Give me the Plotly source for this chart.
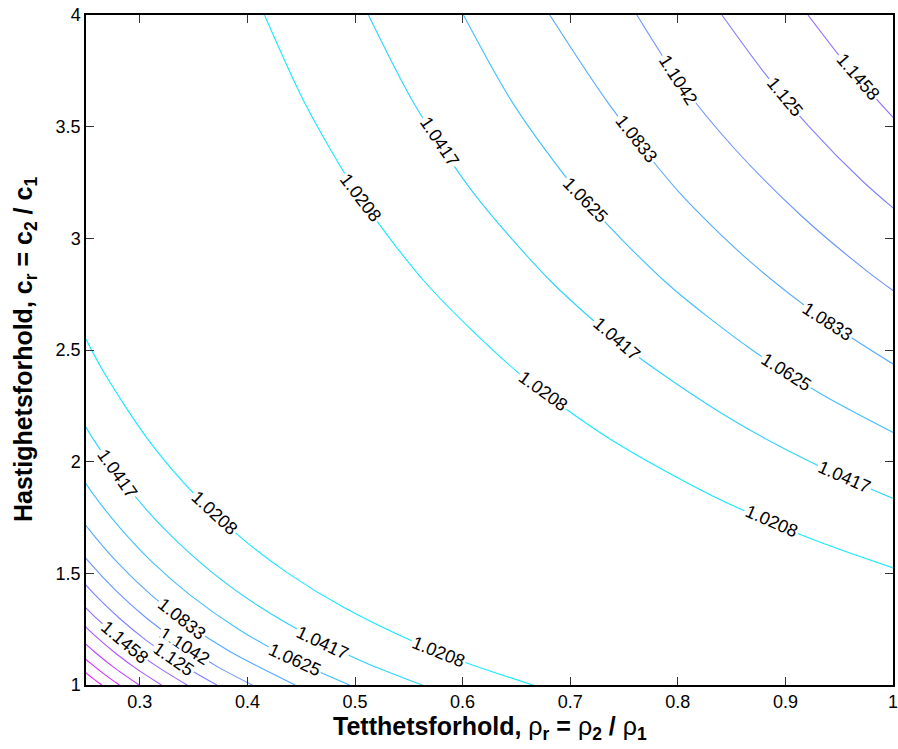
import math
import plotly.graph_objects as go

# ---------------- data ----------------
level_values = [1.0208, 1.0417, 1.0625, 1.0833, 1.1042, 1.125, 1.1458,
                1.1667, 1.1875, 1.2083, 1.2292]
level_text = ["1.0208", "1.0417", "1.0625", "1.0833", "1.1042", "1.125", "1.1458",
              "1.1667", "1.1875", "1.2083", "1.2292"]

# upper-right family (rho_r, c_r)
up1_rho = [0.4159, 0.4539, 0.5024, 0.5658, 0.6513, 0.7374, 0.8309, 0.9264, 1.0149]
up1_c = [4.0, 3.6, 3.2, 2.8, 2.4, 2.1, 1.85, 1.65, 1.5]
up2_rho = [0.5125, 0.5553, 0.6106, 0.6836, 0.7547, 0.8463, 0.9230, 1.0173]
up2_c = [4.0, 3.6, 3.2, 2.8, 2.5, 2.2, 2.0, 1.8]
up3_rho = [0.6008, 0.6474, 0.7085, 0.7896, 0.8691, 0.9344, 1.0126]
up3_c = [4.0, 3.6, 3.2, 2.8, 2.5, 2.3, 2.1]
up4_rho = [0.6810, 0.7362, 0.8024, 0.8662, 0.9319, 1.0124]
up4_c = [4.0, 3.6, 3.2, 2.9, 2.65, 2.4]
up5_rho = [0.7620, 0.8020, 0.8530, 0.9150, 0.9767, 1.0193]
up5_c = [4.0, 3.7, 3.4, 3.1, 2.85, 2.7]
up6_rho = [0.8410, 0.8790, 0.9220, 0.9730, 1.0214]
up6_c = [4.0, 3.75, 3.5, 3.25, 3.05]
up7_rho = [0.9210, 0.9530, 0.9890, 1.0180]
up7_c = [4.0, 3.8, 3.6, 3.45]

# lower-left family (rho_r, c_r)
lo1_rho = [0.2445, 0.2666, 0.3075, 0.3516, 0.3965, 0.4379, 0.4885, 0.5517, 0.6033, 0.6653]
lo1_c = [2.6, 2.4, 2.1, 1.85, 1.65, 1.5, 1.35, 1.2, 1.1, 1.0]
lo2_rho = [0.2382, 0.2569, 0.2863, 0.3225, 0.3683, 0.4115, 0.4655, 0.5096, 0.5625]
lo2_c = [2.25, 2.1, 1.9, 1.7, 1.5, 1.35, 1.2, 1.1, 1.0]
lo3_rho = [0.2363, 0.2574, 0.2822, 0.3116, 0.3474, 0.3917, 0.4396, 0.4949]
lo3_c = [2.0, 1.85, 1.7, 1.55, 1.4, 1.25, 1.12, 1.0]
lo4_rho = [0.2369, 0.2522, 0.2789, 0.3112, 0.3453, 0.3837, 0.4444]
lo4_c = [1.8, 1.7, 1.55, 1.4, 1.27, 1.15, 1.0]
lo5_rho = [0.2363, 0.2530, 0.2783, 0.3061, 0.3395, 0.3729, 0.4045]
lo5_c = [1.65, 1.55, 1.42, 1.3, 1.18, 1.08, 1.0]
lo6_rho = [0.2403, 0.2591, 0.2808, 0.3060, 0.3359, 0.3716]
lo6_c = [1.5, 1.4, 1.3, 1.2, 1.1, 1.0]
lo7_rho = [0.2357, 0.2490, 0.2661, 0.2881, 0.3137, 0.3439]
lo7_c = [1.42, 1.35, 1.27, 1.18, 1.09, 1.0]
lo8_rho = [0.2412, 0.2585, 0.2781, 0.2977, 0.3201]
lo8_c = [1.3, 1.22, 1.14, 1.07, 1.0]
lo9_rho = [0.2415, 0.2575, 0.2756, 0.2993]
lo9_c = [1.22, 1.15, 1.08, 1.0]
lo10_rho = [0.2416, 0.2535, 0.2666, 0.2810]
lo10_c = [1.15, 1.1, 1.05, 1.0]
lo11_rho = [0.2435, 0.2537, 0.2646]
lo11_c = [1.08, 1.04, 1.0]

# inline contour labels: which curve, approximate position
label_curve = ["up1", "up1", "up1", "up2", "up2", "up2", "up3", "up3", "up4", "up4",
               "up5", "up6", "up7",
               "lo1", "lo1", "lo2", "lo2", "lo3", "lo4", "lo5", "lo6", "lo7"]
label_rho = [0.5065, 0.6731, 0.8852, 0.5769, 0.7444, 0.9528, 0.7139, 0.9000, 0.7602, 0.9389,
             0.8000, 0.9000, 0.9667,
             0.3694, 0.5778, 0.2799, 0.4697, 0.4435, 0.3386, 0.3401, 0.3293, 0.2861]
label_c = [3.185, 2.3075, 1.7164, 3.431, 2.554, 1.909, 3.172, 2.397, 3.440, 2.621,
           3.709, 3.633, 3.718,
           1.770, 1.148, 1.948, 1.187, 1.104, 1.291, 1.164, 1.104, 1.194]

x_ticks = [0.3, 0.4, 0.5, 0.6, 0.7, 0.8, 0.9, 1.0]
x_ticktext = ["0.3", "0.4", "0.5", "0.6", "0.7", "0.8", "0.9", "1"]
y_ticks = [1.0, 1.5, 2.0, 2.5, 3.0, 3.5, 4.0]
y_ticktext = ["1", "1.5", "2", "2.5", "3", "3.5", "4"]
x_range = [0.25, 1.0]
y_range = [1.0, 4.0]

# ---------------- figure ----------------
curves = {
    "up1": (0, up1_rho, up1_c), "up2": (1, up2_rho, up2_c), "up3": (2, up3_rho, up3_c),
    "up4": (3, up4_rho, up4_c), "up5": (4, up5_rho, up5_c), "up6": (5, up6_rho, up6_c),
    "up7": (6, up7_rho, up7_c),
    "lo1": (0, lo1_rho, lo1_c), "lo2": (1, lo2_rho, lo2_c), "lo3": (2, lo3_rho, lo3_c),
    "lo4": (3, lo4_rho, lo4_c), "lo5": (4, lo5_rho, lo5_c), "lo6": (5, lo6_rho, lo6_c),
    "lo7": (6, lo7_rho, lo7_c), "lo8": (7, lo8_rho, lo8_c), "lo9": (8, lo9_rho, lo9_c),
    "lo10": (9, lo10_rho, lo10_c), "lo11": (10, lo11_rho, lo11_c),
}

cmin, cmax = 1.0, 1.25


def cool(v):
    t = (v - cmin) / (cmax - cmin)
    t = min(max(t, 0.0), 1.0)
    return "rgb(%d,%d,255)" % (round(255 * t), round(255 * (1 - t)))


W, H = 898, 749
ML, MR, MT, MB = 86, 5, 15, 64
PW, PH = W - ML - MR, H - MT - MB
sx = PW / (x_range[1] - x_range[0])
sy = PH / (y_range[1] - y_range[0])

fig = go.Figure()
for name, (li, xs, ys) in curves.items():
    fig.add_trace(go.Scatter(
        x=xs, y=ys, mode="lines",
        line=dict(color=cool(level_values[li]), width=1.1, shape="spline", smoothing=0.8),
        hoverinfo="skip", showlegend=False))

FONT = "Liberation Sans, Arial, Helvetica, sans-serif"
annotations = []
for name, lr, lc in zip(label_curve, label_rho, label_c):
    li, xs, ys = curves[name]
    best = None
    for i in range(len(xs) - 1):
        x1, y1 = xs[i] * sx, -ys[i] * sy
        x2, y2 = xs[i + 1] * sx, -ys[i + 1] * sy
        px, py = lr * sx, -lc * sy
        dx, dy = x2 - x1, y2 - y1
        t = ((px - x1) * dx + (py - y1) * dy) / (dx * dx + dy * dy)
        t = min(max(t, 0.0), 1.0)
        qx, qy = x1 + t * dx, y1 + t * dy
        d = (qx - px) ** 2 + (qy - py) ** 2
        if best is None or d < best[0]:
            best = (d, qx / sx, -qy / sy, math.degrees(math.atan2(dy, dx)))
    _, ax_, ay_, ang = best
    if ang > 90:
        ang -= 180
    if ang < -90:
        ang += 180
    annotations.append(dict(
        x=ax_, y=ay_, xref="x", yref="y", text=level_text[li], showarrow=False,
        textangle=ang, font=dict(family=FONT, size=18, color="black"),
        bgcolor="white", borderpad=1, xanchor="center", yanchor="middle"))

annotations.append(dict(
    x=0.5, y=-(711 - (H - MB)) / PH, xref="paper", yref="paper",
    text="<b>Tetthetsforhold, </b>ρ<sub><b>r</b></sub><b> = </b>ρ<sub><b>2</b></sub><b> / </b>ρ<sub><b>1</b></sub>",
    showarrow=False, font=dict(family=FONT, size=25, color="black"),
    xanchor="center", yanchor="top", borderpad=0))
annotations.append(dict(
    x=(25 - ML) / PW, y=0.5, xref="paper", yref="paper",
    text="<b>Hastighetsforhold, c<sub>r</sub> = c<sub>2</sub> / c<sub>1</sub></b>",
    showarrow=False, textangle=-90, font=dict(family=FONT, size=25, color="black"),
    xanchor="center", yanchor="middle"))

axis_common = dict(showgrid=False, zeroline=False, showline=True, linecolor="black",
                   linewidth=1.5, mirror="ticks", ticks="inside", ticklen=8,
                   tickcolor="#333333", tickwidth=1, ticklabeloverflow="allow",
                   tickfont=dict(family=FONT, size=18, color="black"))
fig.update_layout(
    width=W, height=H, margin=dict(l=ML, r=MR, t=MT, b=MB, autoexpand=False),
    paper_bgcolor="white", plot_bgcolor="white",
    xaxis=dict(range=x_range, tickmode="array", tickvals=x_ticks, ticktext=x_ticktext,
               **axis_common),
    yaxis=dict(range=y_range, tickmode="array", tickvals=y_ticks, ticktext=y_ticktext,
               **axis_common),
    annotations=annotations,
)
fig.write_html("out.html")
